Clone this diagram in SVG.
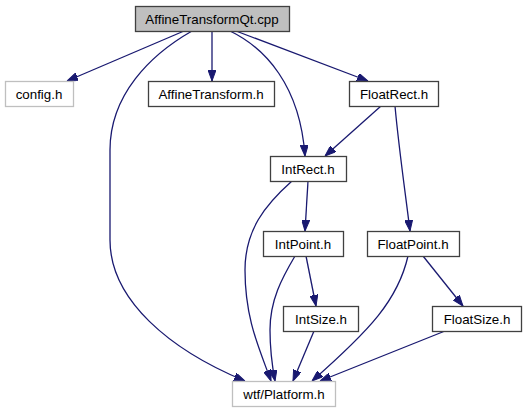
<svg xmlns="http://www.w3.org/2000/svg" width="526" height="411" viewBox="0 0 526 411">
<style>
.n rect{fill:#ffffff;stroke:#404040;stroke-width:1.3}
.g rect{fill:#ffffff;stroke:#bfbfbf;stroke-width:1.3}
#n0 rect{fill:#bfbfbf;stroke:#404040}
text{font-family:"Liberation Sans",Arial,sans-serif;font-size:13.33px;fill:#000000;text-anchor:middle}
#edges path{fill:none;stroke:#191970;stroke-width:1.3;marker-end:url(#arr)}
</style>
<defs>
<marker id="arr" viewBox="0 0 11 8" refX="11" refY="4" markerWidth="11" markerHeight="8" markerUnits="userSpaceOnUse" orient="auto">
<path d="M0,0 L11,4 L0,8 z" fill="#191970" stroke="#191970" stroke-width="1"/>
</marker>
</defs>
<rect x="0" y="0" width="526" height="411" fill="#ffffff"/>
<g id="edges">
<path d="M184,31 L67,81"/>
<path d="M212,31 L212,81"/>
<path d="M236,31 L368,81"/>
<path d="M230,31 C265,48 300,85 305,156"/>
<path d="M192,31 C150,55 110,95 110,150 L110,240 C110,300 170,350 245,381"/>
<path d="M381,106 L325,156"/>
<path d="M395,106 C399,150 405,190 410,231"/>
<path d="M308,181 L305,231"/>
<path d="M292,181 C265,205 245,230 245,270 C245,320 260,350 271,381"/>
<path d="M295,256 C282,278 270,300 270,330 C270,350 272,365 275,381"/>
<path d="M306,256 L316,306"/>
<path d="M314,331 L293,381"/>
<path d="M408,256 C398,300 370,330 312,381"/>
<path d="M423,256 L463,306"/>
<path d="M445,331 L320,381"/>
</g>
<g id="n0" class="n"><rect x="135.5" y="6.5" width="154" height="25"/><text x="212" y="23.5">AffineTransformQt.cpp</text></g>
<g id="n1" class="g"><rect x="5.5" y="81.5" width="68" height="25"/><text x="39" y="98.5">config.h</text></g>
<g id="n2" class="n"><rect x="148.5" y="81.5" width="126" height="25"/><text x="211" y="98.5">AffineTransform.h</text></g>
<g id="n3" class="n"><rect x="349.5" y="81.5" width="89" height="25"/><text x="394" y="98.5">FloatRect.h</text></g>
<g id="n4" class="n"><rect x="270.5" y="156.5" width="76" height="25"/><text x="308" y="173.5">IntRect.h</text></g>
<g id="n5" class="n"><rect x="263.5" y="231.5" width="80" height="25"/><text x="303" y="248.5">IntPoint.h</text></g>
<g id="n6" class="n"><rect x="367.5" y="231.5" width="92" height="25"/><text x="413" y="248.5">FloatPoint.h</text></g>
<g id="n7" class="n"><rect x="283.5" y="306.5" width="75" height="25"/><text x="321" y="323.5">IntSize.h</text></g>
<g id="n8" class="n"><rect x="432.5" y="306.5" width="89" height="25"/><text x="477" y="323.5">FloatSize.h</text></g>
<g id="n9" class="g"><rect x="232.5" y="381.5" width="103" height="25"/><text x="284" y="398.5">wtf/Platform.h</text></g>
</svg>
